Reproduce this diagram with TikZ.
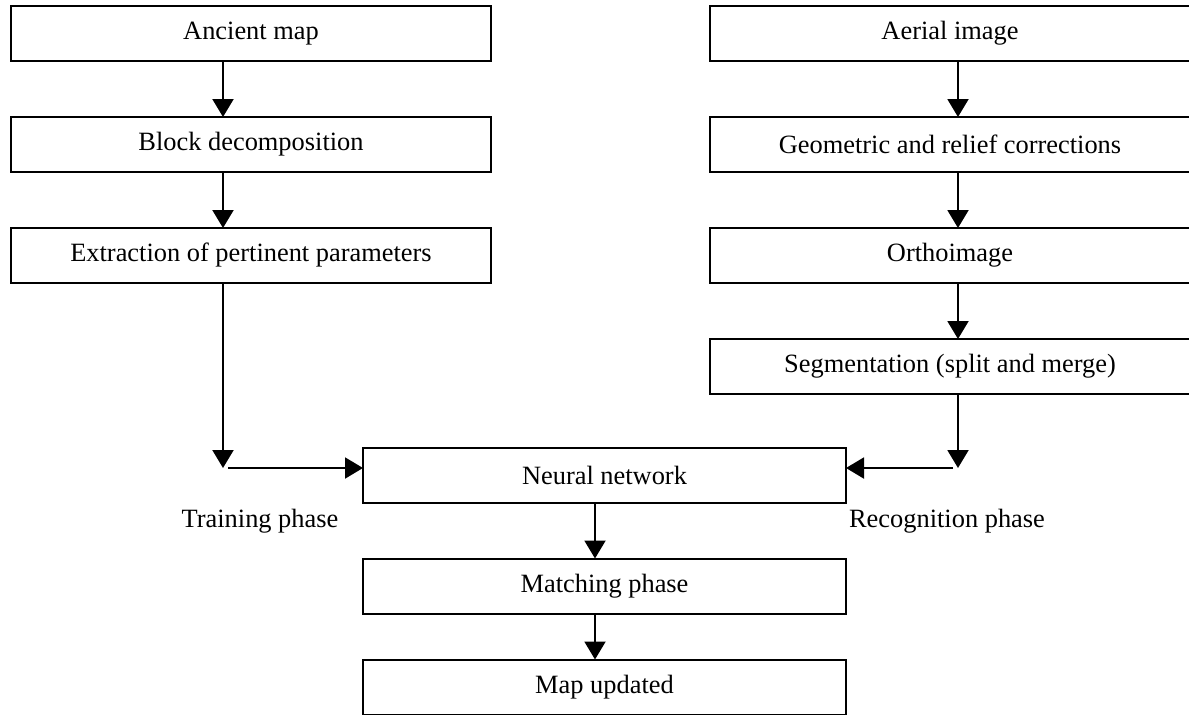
\documentclass[tikz,border=0pt]{standalone}
\usepackage{fontspec}
\setmainfont{Liberation Serif}
\usetikzlibrary{arrows.meta,positioning}

\begin{document}
\begin{tikzpicture}[x=0.5pt,y=-0.5pt,
  node distance=28pt and 16pt,
  box/.style={draw=black,line width=1pt,fill=white,inner sep=0pt,outer sep=0pt,
              minimum width=240pt,minimum height=27.5pt,align=center,
              font=\fontsize{13.2}{15.8}\selectfont},
  lbl/.style={font=\fontsize{13.2}{15.8}\selectfont},
  arr/.style={-{Triangle[length=9pt,width=10.5pt]},line width=1pt,color=black}]

  \useasboundingbox (0,0) rectangle (1189,714);

  \node[box] (ancient) at (251,33.5) {Ancient map};
  \node[box,below=of ancient] (block) {Block decomposition};
  \node[box,below=of block] (extraction) {Extraction of pertinent parameters};

  \node[box] (aerial) at (950,33.5) {Aerial image};
  \node[box,below=of aerial] (geometric) {Geometric and relief corrections};
  \node[box,below=of geometric] (ortho) {Orthoimage};
  \node[box,below=of ortho] (segmentation) {Segmentation (split and merge)};

  \node[box,minimum width=241.5pt] (neural) at (604.5,475) {Neural network};
  \node[box,minimum width=241.5pt,below=of neural] (matching) {Matching phase};
  \node[box,minimum width=241.5pt,below=23pt of matching] (updated) {Map updated};

  \coordinate (trainpt) at (223,468);
  \coordinate (recogpt) at (958,468);

  \draw[arr] ([xshift=-14pt]ancient.south) -- ([xshift=-14pt]block.north);
  \draw[arr] ([xshift=-14pt]block.south) -- ([xshift=-14pt]extraction.north);
  \draw[arr] ([xshift=-14pt]extraction.south) -- (trainpt);
  \draw[arr] ([xshift=2.5pt]trainpt) -- (trainpt -| neural.west);

  \draw[arr] ([xshift=4pt]aerial.south) -- ([xshift=4pt]geometric.north);
  \draw[arr] ([xshift=4pt]geometric.south) -- ([xshift=4pt]ortho.north);
  \draw[arr] ([xshift=4pt]ortho.south) -- ([xshift=4pt]segmentation.north);
  \draw[arr] ([xshift=4pt]segmentation.south) -- (recogpt);
  \draw[arr] ([xshift=-2.5pt]recogpt) -- (recogpt -| neural.east);

  \draw[arr] ([xshift=-4.75pt]neural.south) -- ([xshift=-4.75pt]matching.north);
  \draw[arr] ([xshift=-4.75pt]matching.south) -- ([xshift=-4.75pt]updated.north);

  \node[lbl] (training) at (260,521) {Training phase};
  \node[lbl] (recognition) at (947,521) {Recognition phase};
\end{tikzpicture}
\end{document}
